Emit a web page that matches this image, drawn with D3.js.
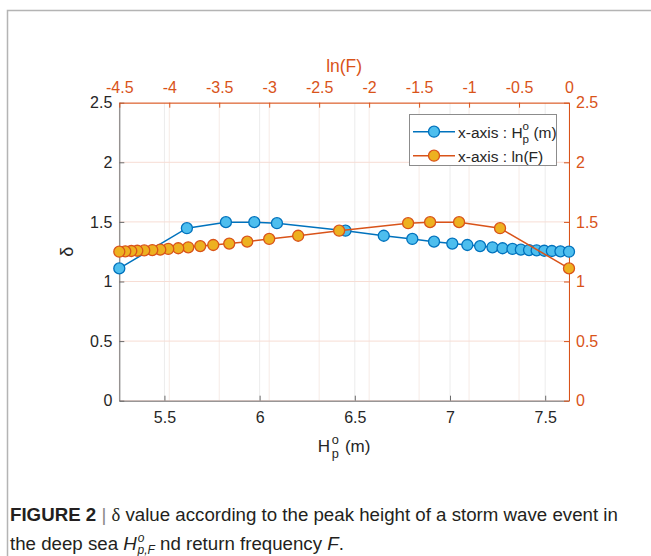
<!DOCTYPE html>
<html lang="en">
<head>
<meta charset="utf-8">
<title>delta vs Hp and ln(F)</title>
<script src="https://cdn.jsdelivr.net/npm/d3@7"></script>
<style>
  body { margin: 0; background: #fff; }
  svg text { font-family: "Liberation Sans", Arial, sans-serif; }
</style>
</head>
<body>
<script>
// return periods T = 1,2,3,4,5,10,...,90 -> one point each
var hp = [5.263, 5.618, 5.823, 5.972, 6.091, 6.451, 6.652, 6.802, 6.916, 7.012, 7.091,
          7.158, 7.223, 7.276, 7.328, 7.372, 7.415, 7.455, 7.495, 7.535, 7.58, 7.625];
var lnF = [0, -0.69, -1.10, -1.39, -1.61, -2.30, -2.71, -3.00, -3.22, -3.40, -3.56,
           -3.69, -3.81, -3.91, -4.01, -4.09, -4.17, -4.25, -4.32, -4.38, -4.44, -4.50];
var delta = [1.11, 1.447, 1.498, 1.498, 1.489, 1.426, 1.384, 1.357, 1.334, 1.318, 1.306,
             1.297, 1.287, 1.279, 1.273, 1.267, 1.264, 1.261, 1.258, 1.256, 1.253, 1.25];

var xTicks = [5.5, 6, 6.5, 7, 7.5];
var x2Ticks = [-4.5, -4, -3.5, -3, -2.5, -2, -1.5, -1, -0.5, 0];
var yTicks = [0, 0.5, 1, 1.5, 2, 2.5];

var w = 651, h = 556;
var pL = 119.3, pR = 569, pT = 102.7, pB = 400.7;
var orange = "#D95319", blue = "#0072BD";
var tickFs = 16;

var svg = d3.select("body").append("svg").attr("width", w).attr("height", h);

// frame round the figure
svg.append("path")
   .attr("d", "M7.5,556V10.5H651")
   .attr("fill", "none").attr("stroke", "#b4b4b4").attr("stroke-width", 1.5);

var x = d3.scaleLinear().domain([5.263, 7.625]).range([pL, pR]);
var x2 = d3.scaleLinear().domain([-4.5, 0]).range([pL, pR]);
var y = d3.scaleLinear().domain([0, 2.5]).range([pB, pT]);

// grid
var grid = svg.append("g");
grid.selectAll(".gx").data(xTicks).enter().append("line")
    .attr("x1", function(d) { return x(d); }).attr("x2", function(d) { return x(d); })
    .attr("y1", pT).attr("y2", pB).attr("stroke", "#ececec");
grid.selectAll(".gx2").data(x2Ticks).enter().append("line")
    .attr("x1", function(d) { return x2(d); }).attr("x2", function(d) { return x2(d); })
    .attr("y1", pT).attr("y2", pB).attr("stroke", "#f6ebe6");
grid.selectAll(".gy").data(yTicks).enter().append("line")
    .attr("x1", pL).attr("x2", pR)
    .attr("y1", function(d) { return y(d); }).attr("y2", function(d) { return y(d); })
    .attr("stroke", "#f7ddd4");

// axes
function styleAxis(g, col, lineCol) {
  g.attr("font-size", tickFs).attr("font-family", "'Liberation Sans', Arial, sans-serif");
  g.select(".domain").attr("stroke", lineCol);
  g.selectAll(".tick line").attr("stroke", lineCol);
  g.selectAll(".tick text").attr("fill", col);
}
var fmt = function(d) { return String(d); };

svg.append("g").attr("transform", "translate(0," + pB + ")")
   .call(d3.axisBottom(x).tickValues(xTicks).tickFormat(fmt).tickSizeInner(-5).tickSizeOuter(0).tickPadding(11))
   .call(styleAxis, "#262626", "#6b6b6b");
svg.append("g").attr("transform", "translate(" + pL + ",0)")
   .call(d3.axisLeft(y).tickValues(yTicks).tickFormat(fmt).tickSizeInner(-5).tickSizeOuter(0).tickPadding(7))
   .call(styleAxis, "#262626", "#6b6b6b");
svg.append("g").attr("transform", "translate(0," + pT + ")")
   .call(d3.axisTop(x2).tickValues(x2Ticks).tickFormat(fmt).tickSizeInner(-5).tickSizeOuter(0).tickPadding(9.5))
   .call(styleAxis, orange, orange);
svg.append("g").attr("transform", "translate(" + pR + ",0)")
   .call(d3.axisRight(y).tickValues(yTicks).tickFormat(fmt).tickSizeInner(-5).tickSizeOuter(0).tickPadding(7))
   .call(styleAxis, orange, orange);

// series
function series(xs, xScale, lineCol, fillCol) {
  var pts = xs.map(function(v, i) { return [xScale(v), y(delta[i])]; });
  svg.append("path").datum(pts)
     .attr("d", d3.line())
     .attr("fill", "none").attr("stroke", lineCol).attr("stroke-width", 1.5);
  svg.append("g").selectAll("circle").data(pts).enter().append("circle")
     .attr("cx", function(d) { return d[0]; }).attr("cy", function(d) { return d[1]; })
     .attr("r", 5.5).attr("fill", fillCol).attr("stroke", lineCol).attr("stroke-width", 1.3);
}
series(hp, x, blue, "#4DBEEE");
series(lnF, x2, orange, "#EDB120");

// axis titles
svg.append("text").attr("x", (pL + pR) / 2).attr("y", 72)
   .attr("text-anchor", "middle").attr("font-size", "17.5px").attr("fill", orange).text("ln(F)");

function hpLabel(g, fs, gap) {
  // H with stacked superscript o and subscript p, then " (m)"
  var t = g.append("text").attr("font-size", fs + "px").attr("fill", "#262626");
  t.append("tspan").text("H");
  t.append("tspan").attr("font-size", (fs * 0.75) + "px").attr("dx", gap).attr("dy", -fs * 0.5).text("o");
  var hw = t.select("tspan").node().getComputedTextLength();
  g.append("text").attr("font-size", fs * 0.75 + "px").attr("fill", "#262626")
   .attr("x", hw + gap).attr("y", fs * 0.38).text("p");
  t.append("tspan").attr("dy", fs * 0.5).attr("dx", gap).text("\u00a0(m)");
  return t;
}
var xt = svg.append("g");
hpLabel(xt, 17, 1.5);
var bb = xt.node().getBBox();
xt.attr("transform", "translate(" + ((pL + pR) / 2 - bb.width / 2) + ",452)");

svg.append("text").attr("transform", "translate(73," + ((pT + pB) / 2) + ") rotate(-90)")
   .attr("text-anchor", "middle").attr("font-size", "18px").attr("fill", "#262626").text("\u03b4");

// legend
var lg = svg.append("g");
lg.append("rect").attr("x", 409.5).attr("y", 114.5).attr("width", 147).attr("height", 51)
  .attr("fill", "#fff").attr("stroke", "#8c8c8c").attr("stroke-width", 1);
[[blue, "#4DBEEE", 131.7], [orange, "#EDB120", 155.7]].forEach(function(r) {
  lg.append("line").attr("x1", 413).attr("x2", 455).attr("y1", r[2]).attr("y2", r[2])
    .attr("stroke", r[0]).attr("stroke-width", 1.5);
  lg.append("circle").attr("cx", 434).attr("cy", r[2]).attr("r", 5.5)
    .attr("fill", r[1]).attr("stroke", r[0]).attr("stroke-width", 1.3);
});
var l1 = lg.append("g").attr("transform", "translate(458,137.5)");
l1.append("text").attr("font-size", "15.5px").attr("fill", "#262626").text("x-axis :\u00a0");
var l1w = l1.select("text").node().getComputedTextLength();
var l1h = l1.append("g").attr("transform", "translate(" + l1w + ",0)");
hpLabel(l1h, 15.5, 0);
lg.append("text").attr("x", 458).attr("y", 161.5).attr("font-size", "15.5px").attr("fill", "#262626")
  .text("x-axis : ln(F)");

// caption
var cap = svg.append("g").attr("fill", "#231f20");
var c1 = cap.append("text").attr("x", 10).attr("y", 521).attr("font-size", "18.7px");
c1.append("tspan").attr("font-weight", "bold").text("FIGURE 2");
c1.append("tspan").attr("fill", "#888").text(" | ");
c1.append("tspan").attr("font-family", "'Liberation Serif', serif").text("\u03b4");
c1.append("tspan").text(" value according to the peak height of a storm wave event in");
var c2 = cap.append("text").attr("x", 10).attr("y", 550).attr("font-size", "18.7px");
c2.append("tspan").text("the deep sea ");
c2.append("tspan").attr("font-style", "italic").text("H");
c2.append("tspan").attr("font-size", "12px").attr("font-style", "italic").attr("dx", 1).attr("dy", -8).text("o");
c2.append("tspan").attr("font-size", "12px").attr("font-style", "italic").attr("dx", -7).attr("dy", 12).text("p,F");
c2.append("tspan").attr("dy", -4).text(" nd return frequency ");
c2.append("tspan").attr("font-style", "italic").text("F");
c2.append("tspan").text(".");
</script>
</body>
</html>
